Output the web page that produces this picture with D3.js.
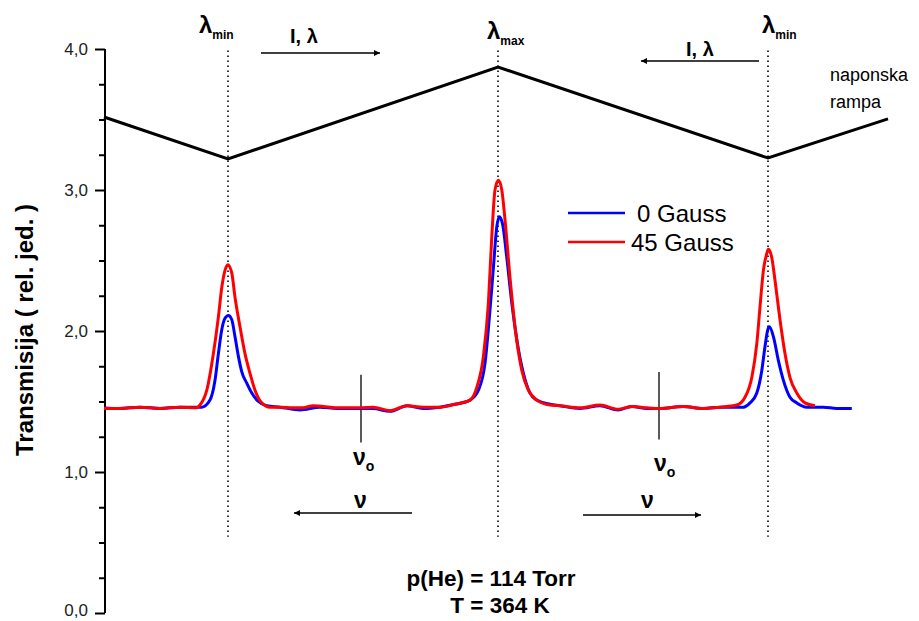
<!DOCTYPE html>
<html><head><meta charset="utf-8">
<script src="https://cdn.jsdelivr.net/npm/d3@7"></script>
<style>
html,body{margin:0;padding:0;background:#fff;}
svg text{font-family:Arial,"Liberation Sans",Helvetica,sans-serif;}
</style></head>
<body><svg id="c" width="919" height="621"></svg>
<script>
// ---- data (x in channel units, y in relative transmission) ----
const blueX = [0,8,18,28,38,48.9,53,55.5,57.2,58.9,60.5,62.2,63.9,65.5,67.2,68.9,71.4,73.9,77.2,81.4,88,98,108,116.5,128,134.5,143,151.5,159.5,168,175.5,183,187.2,190.5,193,194.7,196.4,197.7,199.4,201.4,203.9,206.4,209.7,213,216.4,223,228,238,248,257,264,271.5,278,289.5,299.5,308,319.7,323,326.4,328.9,330.5,331.9,332.7,334.7,337.2,339.7,343,346.4,351.4,359.7,366.4,373.9];
const blueY = [1.454,1.45,1.46,1.45,1.46,1.46,1.51,1.65,1.84,2.01,2.09,2.11,2.08,1.96,1.82,1.71,1.63,1.56,1.50,1.47,1.46,1.44,1.46,1.45,1.45,1.45,1.43,1.47,1.45,1.46,1.48,1.51,1.58,1.77,2.15,2.45,2.74,2.81,2.75,2.52,2.20,1.94,1.70,1.56,1.51,1.48,1.47,1.45,1.47,1.44,1.465,1.45,1.45,1.465,1.45,1.46,1.46,1.49,1.56,1.72,1.89,2.01,2.03,1.96,1.79,1.65,1.53,1.49,1.46,1.46,1.45,1.45];
const redX = [0,8,18,28,38,46,48,51.4,54.7,57.2,58.9,60.5,61.9,63.9,65.5,68,70.5,73,75.5,78.9,83,88,94.5,99.5,104.5,113,116.5,128,134.5,143,151.5,159.5,168,175.5,183,186.4,189.7,192.2,193.9,195.5,197.2,198.9,200.5,203,205.5,208.9,212.2,216.4,223,228,238,248,257,264,271.5,278,289.5,299.5,308,316.4,320.5,323.9,326.4,328,329.7,331.4,332.2,333.9,335.5,338,340.5,343,346.4,350.5,355.5];
const redY = [1.45,1.45,1.46,1.45,1.46,1.455,1.475,1.58,1.84,2.10,2.31,2.43,2.47,2.41,2.24,2.03,1.84,1.70,1.58,1.49,1.46,1.46,1.455,1.455,1.47,1.46,1.455,1.455,1.46,1.435,1.47,1.46,1.46,1.48,1.51,1.60,1.82,2.20,2.67,3.00,3.07,3.00,2.79,2.38,2.03,1.72,1.58,1.51,1.475,1.47,1.455,1.475,1.445,1.465,1.455,1.45,1.465,1.45,1.46,1.475,1.53,1.67,1.91,2.17,2.43,2.55,2.58,2.52,2.36,2.08,1.84,1.67,1.56,1.49,1.47];
const rampX = [0,62,197,332,392];
const rampY = [3.518,3.22,3.872,3.227,3.504];
const lambdaX = [62,197,332];
const lambdaSub = ["min","max","min"];
const nu0X = [128.5,277.5];
const yTicks = [0,1,2,3,4];
const seriesNames = ["0 Gauss","45 Gauss"];
const seriesColors = ["#0000ff","#ff0000"];

const svg = d3.select("#c");
const x = d3.scaleLinear().domain([0,392]).range([104,888]);
const y = d3.scaleLinear().domain([0,4]).range([613,49]);

// y axis: minor + major
const minorVals = d3.range(0,4.001,0.25).filter(v=>Math.abs(v-Math.round(v))>1e-6);
const gMinor = svg.append("g").attr("transform","translate(105,0)")
  .call(d3.axisLeft(y).tickValues(minorVals).tickSize(6).tickFormat(""));
const gMajor = svg.append("g").attr("transform","translate(105,0)")
  .call(d3.axisLeft(y).tickValues(yTicks).tickSize(10).tickPadding(7)
        .tickFormat(d=>d3.format(".1f")(d).replace(".",",")));
[gMinor,gMajor].forEach(g=>{
  g.select(".domain").attr("stroke","#000").attr("stroke-width",2).attr("d","M0,"+y(4)+"V"+y(0));
  g.selectAll(".tick line").attr("stroke","#000").attr("stroke-width",2);
});
gMajor.selectAll(".tick text").attr("font-size",17).attr("fill","#222")
  .attr("dy",d=>d===0?"0.12em":"0.3em")
  .style("font-family","Arial, 'Liberation Sans', sans-serif");

// y label
svg.append("text").attr("transform","translate(33,330) rotate(-90)")
  .attr("text-anchor","middle").attr("font-weight","bold").attr("font-size",24)
  .text("Transmisija ( rel. jed. )");

// dotted lambda lines
svg.selectAll("line.lam").data(lambdaX).enter().append("line")
  .attr("x1",d=>x(d)).attr("x2",d=>x(d)).attr("y1",y(3.99)).attr("y2",y(0.54))
  .attr("stroke","#000").attr("stroke-width",1.6).attr("stroke-dasharray","1.6,3.4");

// nu0 lines
svg.selectAll("line.nu").data(nu0X).enter().append("line")
  .attr("x1",d=>x(d)).attr("x2",d=>x(d)).attr("y1",(d,i)=>i?y(1.71):y(1.69)).attr("y2",(d,i)=>i?y(1.23):y(1.21))
  .attr("stroke","#000").attr("stroke-width",1.3);

// ramp
const line = d3.line().x(d=>x(d[0])).y(d=>y(d[1]));
svg.append("path").datum(rampX.map((v,i)=>[v,rampY[i]])).attr("d",line)
  .attr("fill","none").attr("stroke","#000").attr("stroke-width",3).attr("stroke-linejoin","miter");

// curves
const cline = d3.line().x(d=>x(d[0])).y(d=>y(d[1])).curve(d3.curveMonotoneX);
svg.append("path").datum(blueX.map((v,i)=>[v,blueY[i]])).attr("d",cline)
  .attr("fill","none").attr("stroke",seriesColors[0]).attr("stroke-width",3);
svg.append("path").datum(redX.map((v,i)=>[v,redY[i]])).attr("d",cline)
  .attr("fill","none").attr("stroke",seriesColors[1]).attr("stroke-width",3);

// legend
seriesNames.forEach((n,i)=>{
  const ly = 213 + i*29;
  svg.append("line").attr("x1",568).attr("x2",625).attr("y1",ly).attr("y2",ly)
    .attr("stroke",seriesColors[i]).attr("stroke-width",2.5);
  svg.append("text").attr("x",i?631:637).attr("y",ly+9).attr("font-size",24).text(n);
});

// arrow marker
const defs = svg.append("defs");
defs.append("marker").attr("id","ah").attr("viewBox","0 0 10 10").attr("refX",10).attr("refY",5)
  .attr("markerWidth",12).attr("markerHeight",6).attr("markerUnits","userSpaceOnUse").attr("orient","auto")
  .append("path").attr("d","M0,0L10,5L0,10z").attr("fill","#000");
function arrow(x1,x2,yy){
  svg.append("line").attr("x1",x1).attr("x2",x2).attr("y1",yy).attr("y2",yy)
    .attr("stroke","#000").attr("stroke-width",1.3).attr("marker-end","url(#ah)");
}
arrow(261,380,53);
arrow(759,641,61);
arrow(412,294,513);
arrow(583,701,515);

// lambda labels
const lamPos = [[199,33],[487,39],[762,33]];
lambdaX.forEach((d,i)=>{
  const t = svg.append("text").attr("x",lamPos[i][0]).attr("y",lamPos[i][1]).attr("font-weight","bold").attr("font-size",24);
  t.append("tspan").text("λ");
  t.append("tspan").attr("dy",6).attr("font-size",12).text(lambdaSub[i]);
});

// I, lambda
svg.append("text").attr("x",290).attr("y",43).attr("font-weight","bold").attr("font-size",20).text("I, λ");
svg.append("text").attr("x",686).attr("y",56).attr("font-weight","bold").attr("font-size",20).text("I, λ");

// ramp label
svg.append("text").attr("x",830).attr("y",81).attr("font-size",18).text("naponska");
svg.append("text").attr("x",830).attr("y",108).attr("font-size",18).text("rampa");

// nu labels
[[353,465],[654,471]].forEach(p=>{
  const t = svg.append("text").attr("x",p[0]).attr("y",p[1]).attr("font-weight","bold").attr("font-size",23);
  t.append("tspan").text("ν");
  t.append("tspan").attr("dy",6).attr("font-size",14).text("o");
});
svg.append("text").attr("x",354).attr("y",508).attr("font-weight","bold").attr("font-size",23).text("ν");
svg.append("text").attr("x",641).attr("y",508).attr("font-weight","bold").attr("font-size",23).text("ν");

// conditions
svg.append("text").attr("x",491).attr("y",586).attr("text-anchor","middle").attr("font-weight","bold").attr("font-size",22.5).text("p(He) = 114 Torr");
svg.append("text").attr("x",500).attr("y",613).attr("text-anchor","middle").attr("font-weight","bold").attr("font-size",22.5).text("T = 364 K");
</script></body></html>
